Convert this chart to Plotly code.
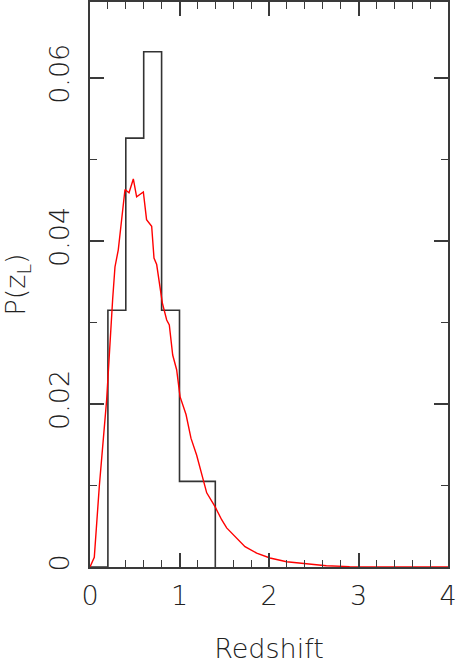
import plotly.graph_objects as go

# Histogram of lens redshifts (bin edges and heights)
bin_edges = [0.0, 0.2, 0.4, 0.6, 0.8, 1.0, 1.2, 1.4]
bin_heights = [0.0, 0.0315, 0.0526, 0.0632, 0.0315, 0.0105, 0.0105, 0.0]

# Model P(z_L) curve
z_curve = [0.0, 0.048, 0.104, 0.186, 0.253, 0.279, 0.316, 0.391, 0.436, 0.484,
           0.521, 0.596, 0.632, 0.689, 0.715, 0.745, 0.808, 0.857, 0.886, 0.924,
           0.968, 1.006, 1.073, 1.128, 1.192, 1.24, 1.304, 1.397, 1.471, 1.527,
           1.639, 1.732, 1.862, 2.011, 2.197, 2.42, 2.64, 2.9, 3.2, 3.6, 4.0]
p_curve = [0.0, 0.0012, 0.0099, 0.0205, 0.0328, 0.0368, 0.0389, 0.0463, 0.0459, 0.0476,
           0.0454, 0.046, 0.0426, 0.0418, 0.0379, 0.0371, 0.0324, 0.0303, 0.0297, 0.026,
           0.0242, 0.0209, 0.0187, 0.0158, 0.0137, 0.0117, 0.0091, 0.0074, 0.0058, 0.0048,
           0.0036, 0.0025, 0.0017, 0.0011, 0.00065, 0.0004, 0.00016, 0.00005, 0.0, 0.0, 0.0]

axis_color = '#3a3a3a'
font = dict(family='DejaVu Sans', size=27, color='#222', weight=200)

fig = go.Figure()

# Histogram as a step line
fig.add_trace(go.Scatter(
    x=bin_edges,
    y=bin_heights,
    mode='lines',
    line=dict(color='#333333', width=1.6, shape='hv'),
    showlegend=False,
))

# Model curve
fig.add_trace(go.Scatter(
    x=z_curve,
    y=p_curve,
    mode='lines',
    line=dict(color='#ff0000', width=1.4),
    showlegend=False,
))

fig.update_xaxes(
    range=[0, 4],
    tickvals=[0, 1, 2, 3, 4],
    ticks='inside',
    ticklen=14,
    tickwidth=1.6,
    tickcolor=axis_color,
    minor=dict(dtick=0.2, ticks='inside', ticklen=7, tickwidth=1.4, tickcolor=axis_color),
    showline=True,
    linecolor=axis_color,
    linewidth=2,
    mirror='ticks',
    showgrid=False,
    zeroline=False,
    automargin=False,
    ticklabelstandoff=4,
    tickfont=font,
    title=dict(text='Redshift', font=font, standoff=32),
)
fig.update_yaxes(
    range=[0, 0.0693],
    tickvals=[0, 0.02, 0.04, 0.06],
    ticktext=['0', '0.02', '0.04', '0.06'],
    tickangle=-90,
    ticks='inside',
    ticklen=14,
    tickwidth=1.6,
    tickcolor=axis_color,
    minor=dict(dtick=0.01, ticks='inside', ticklen=7, tickwidth=1.4, tickcolor=axis_color),
    showline=True,
    linecolor=axis_color,
    linewidth=2,
    mirror='ticks',
    showgrid=False,
    zeroline=False,
    automargin=False,
    ticklabelstandoff=8,
    tickfont=font,
    title=dict(text='P(z<sub>L</sub>)', font=font, standoff=14),
)

fig.update_layout(
    width=458,
    height=664,
    margin=dict(l=90, r=10, t=2, b=97),
    plot_bgcolor='white',
    paper_bgcolor='white',
)

# drop the default page margin so the figure sits at the window corner
fig.write_html(
    "out.html",
    config={'displayModeBar': False},
    post_script="document.body.style.margin='0';",
)
